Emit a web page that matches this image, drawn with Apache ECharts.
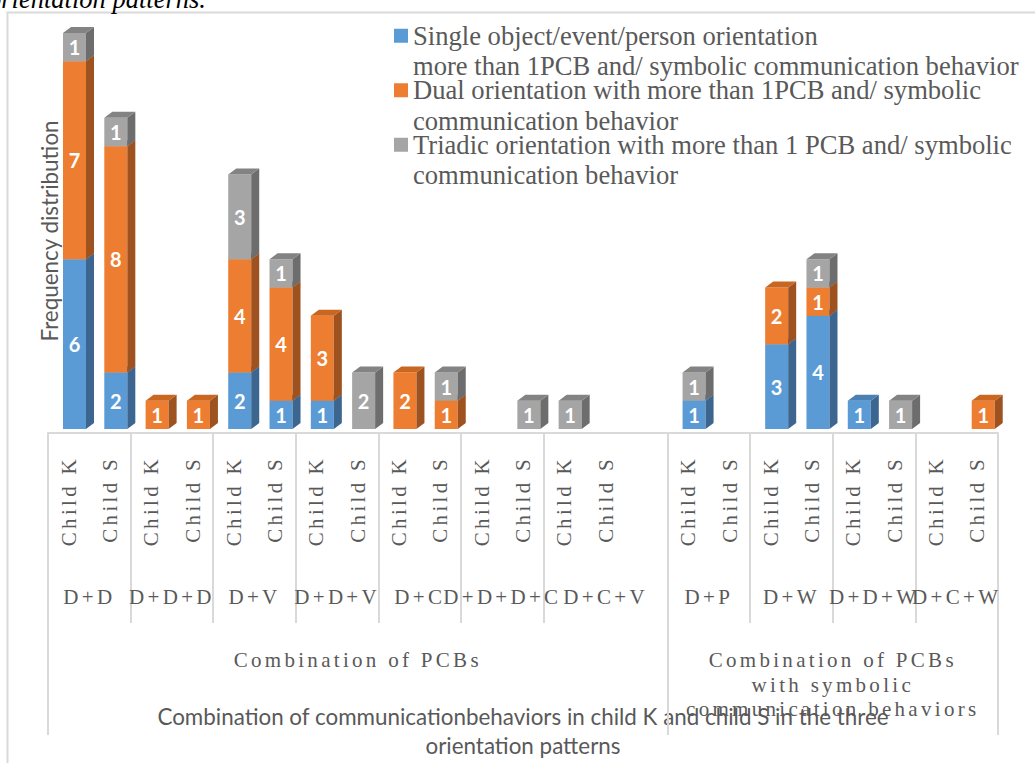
<!DOCTYPE html>
<html>
<head>
<meta charset="utf-8">
<script src="https://cdn.jsdelivr.net/npm/echarts@6/dist/echarts.min.js"></script>
<style>
  html, body { margin: 0; padding: 0; background: #fff; }
  #chart { width: 1035px; height: 763px; }
  /* Excel draws the serif axis labels letter-spaced */
  #chart text[style*="Times New Roman"] { letter-spacing: 3.3px; }
</style>
</head>
<body>
<div id="chart"></div>
<script>
// one slot per bar; slot 14 is the empty gap after D+C+V
const slotLabels = [
  'Child K', 'Child S', 'Child K', 'Child S', 'Child K', 'Child S', 'Child K', 'Child S',
  'Child K', 'Child S', 'Child K', 'Child S', 'Child K', 'Child S', '',
  'Child K', 'Child S', 'Child K', 'Child S', 'Child K', 'Child S', 'Child K', 'Child S'
];
const singleVals  = [6, 2, 0, 0, 2, 1, 1, 0, 0, 0, 0, 0, 0, 0, 0, 1, 0, 3, 4, 1, 0, 0, 0];
const dualVals    = [7, 8, 1, 1, 4, 4, 3, 0, 2, 1, 0, 0, 0, 0, 0, 0, 0, 2, 1, 0, 0, 0, 1];
const triadicVals = [1, 1, 0, 0, 3, 1, 0, 2, 0, 1, 0, 1, 1, 0, 0, 1, 0, 0, 1, 0, 1, 0, 0];

const groupLabels = ['D+D', 'D+D+D', 'D+V', 'D+D+V', 'D+C', 'D+D+D+C', 'D+C+V', 'D+P', 'D+W', 'D+D+W', 'D+C+W'];
const groupStarts = [0, 2, 4, 6, 8, 10, 12, 15, 17, 19, 21];
const groupSizes  = [2, 2, 2, 2, 2, 2, 3, 2, 2, 2, 2];

const topLabels = ['Combination of PCBs', 'Combination of PCBs\nwith symbolic\ncommunication behaviors'];
const topStarts = [0, 15];
const topSizes  = [15, 8];

const seriesNames = [
  'Single object/event/person orientation\nmore than 1PCB and/ symbolic communication behavior',
  'Dual orientation with more than 1PCB and/ symbolic\ncommunication behavior',
  'Triadic orientation with more than 1 PCB and/ symbolic\ncommunication behavior'
];

const palette = [
  { front: '#5B9BD5', side: '#3C6690', top: '#4A80B3' },
  { front: '#ED7D31', side: '#9E5220', top: '#C9661F' },
  { front: '#A5A5A5', side: '#6D6D6D', top: '#838383' }
];

const serifAxis = "'Liberation Serif', 'Times New Roman', serif";
const labelGrey = '#595959';
const lineGrey = '#D9D9D9';

// stack the three series
const allVals = [singleVals, dualVals, triadicVals];
const bases = slotLabels.map(() => 0);
const stacked = allVals.map(vals => vals.map((v, i) => {
  const item = [i, bases[i], v];
  bases[i] += v;
  return item;
}));

function renderBox(params, api) {
  const v = api.value(2);
  if (!v) return null;
  const idx = api.value(0);
  const base = api.value(1);
  const band = api.size([1, 0])[0];
  const p0 = api.coord([idx, base]);
  const p1 = api.coord([idx, base + v]);
  const w = band * 0.557;
  const x0 = p0[0] - band * 0.137;
  const dx = band * 0.194;
  const dy = 6;
  const yb = p0[1], yt = p1[1];
  const col = palette[params.seriesIndex];
  return {
    type: 'group',
    children: [
      { type: 'rect', shape: { x: x0, y: yt, width: w, height: yb - yt }, style: { fill: col.front } },
      { type: 'polygon', shape: { points: [[x0 + w, yt], [x0 + w + dx, yt - dy], [x0 + w + dx, yb - dy], [x0 + w, yb]] }, style: { fill: col.side } },
      { type: 'polygon', shape: { points: [[x0, yt], [x0 + dx, yt - dy], [x0 + w + dx, yt - dy], [x0 + w, yt]] }, style: { fill: col.top } },
      {
        type: 'text', x: x0 + w / 2, y: (yt + yb) / 2,
        style: { text: String(v), fill: '#fff', font: 'bold 20px Lato', align: 'center', verticalAlign: 'middle' }
      }
    ]
  };
}

function centerLabel(starts, sizes, labels) {
  return function (value) {
    for (let i = 0; i < labels.length; i++) {
      if (Math.abs(starts[i] + sizes[i] / 2 - value) < 0.01) return labels[i];
    }
    return '';
  };
}

const chart = echarts.init(document.getElementById('chart'), null, { renderer: 'svg' });

const option = {
  animation: false,
  legend: {
    orient: 'vertical',
    left: 394,
    top: -10,
    padding: 0,
    itemWidth: 14,
    itemHeight: 14,
    itemGap: -37,
    icon: 'rect',
    selectedMode: false,
    // leading blank line keeps the marker level with the first text line
    formatter: (name) => '\n' + name,
    textStyle: {
      fontFamily: "'Liberation Serif', serif", fontSize: 26.6, color: labelGrey, lineHeight: 30.5
    }
  },
  grid: { left: 48, right: 37, top: 33, bottom: 334, outerBoundsMode: 'none' },
  xAxis: [
    {
      type: 'category',
      data: slotLabels,
      position: 'bottom',
      offset: 4,
      name: 'Combination of communicationbehaviors in child K and child S in the three\norientation patterns',
      nameLocation: 'middle',
      nameGap: 269,
      nameMoveOverlap: false,
      nameTextStyle: { fontFamily: 'Lato', fontSize: 22.4, color: labelGrey, lineHeight: 29 },
      axisLine: { show: true, onZero: false, lineStyle: { color: lineGrey, width: 2 } },
      axisTick: {
        show: true, length: 190,
        interval: (i) => groupStarts.includes(i),
        lineStyle: { color: lineGrey, width: 2 }
      },
      axisLabel: {
        interval: 0, rotate: 90, margin: 23,
        fontFamily: serifAxis, fontSize: 21, color: labelGrey
      }
    },
    {
      type: 'category',
      data: slotLabels,
      position: 'bottom',
      offset: 4,
      axisLine: { show: false, onZero: false },
      axisTick: {
        show: true, length: 302,
        interval: (i) => topStarts.includes(i),
        lineStyle: { color: lineGrey, width: 2 }
      },
      axisLabel: { show: false }
    },
    {
      type: 'value',
      min: 0, max: slotLabels.length, interval: 0.5,
      position: 'bottom',
      offset: 4,
      axisLine: { show: false, onZero: false },
      axisTick: { show: false },
      splitLine: { show: false },
      axisLabel: {
        margin: 153, hideOverlap: false, showMinLabel: true, showMaxLabel: true,
        formatter: centerLabel(groupStarts, groupSizes, groupLabels),
        fontFamily: serifAxis, fontSize: 21, color: labelGrey
      }
    },
    {
      type: 'value',
      min: 0, max: slotLabels.length, interval: 0.5,
      position: 'bottom',
      offset: 4,
      axisLine: { show: false, onZero: false },
      axisTick: { show: false },
      splitLine: { show: false },
      axisLabel: {
        margin: 215, hideOverlap: false,
        formatter: centerLabel(topStarts, topSizes, topLabels),
        fontFamily: serifAxis, fontSize: 21, lineHeight: 24.5, color: labelGrey
      }
    }
  ],
  yAxis: {
    type: 'value',
    min: 0, max: 14,
    axisLine: { show: false },
    axisTick: { show: false },
    axisLabel: { show: false },
    splitLine: { show: false },
    name: 'Frequency distribution',
    nameLocation: 'middle',
    nameGap: -12,
    nameMoveOverlap: false,
    nameTextStyle: { fontFamily: 'Lato', fontSize: 22.4, color: labelGrey }
  },
  graphic: [
    {
      type: 'rect', silent: true, z: -1,
      shape: { x: 7.5, y: 12.5, width: 1040, height: 760 },
      style: { fill: 'none', stroke: lineGrey, lineWidth: 2 }
    },
    {
      type: 'text', x: -12, y: 12, silent: true,
      style: {
        text: 'orientation patterns.', fill: '#000',
        font: "italic 26.5px 'Liberation Serif', serif", verticalAlign: 'bottom'
      }
    }
  ],
  series: seriesNames.map((name, s) => ({
    name: name,
    type: 'custom',
    renderItem: renderBox,
    itemStyle: { color: palette[s].front },
    encode: { x: 0, y: 2 },
    data: stacked[s]
  }))
};

chart.setOption(option);
</script>
</body>
</html>
